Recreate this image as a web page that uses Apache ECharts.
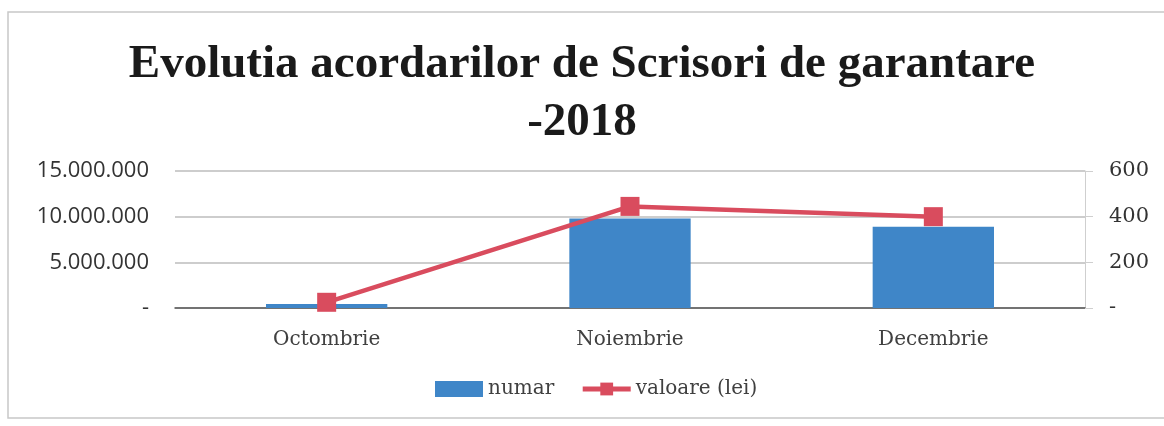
<!DOCTYPE html>
<html>
<head>
<meta charset="utf-8">
<script src="https://cdn.jsdelivr.net/npm/echarts@6/dist/echarts.min.js"></script>
<style>
  html, body { margin: 0; padding: 0; background: #fff; }
  #chart { width: 1164px; height: 426px; }
</style>
</head>
<body>
<div id="chart"></div>
<script>
var months = ['Octombrie', 'Noiembrie', 'Decembrie'];
var numar = [450000, 9800000, 8900000];
var valoare = [25, 445, 400];
var leftTicks = [0, 5000000, 10000000, 15000000];
var rightTicks = [0, 200, 400, 600];

function fmtDots(v) {
    if (v === 0) return '-';
    return String(v).replace(/\B(?=(\d{3})+(?!\d))/g, '.');
}

var chart = echarts.init(document.getElementById('chart'));
var serif = '"DejaVu Serif", serif';
var lineColor = '#d94c5e';
var option = {
    title: {
        text: 'Evolutia acordarilor de Scrisori de garantare\n-2018',
        left: 'center',
        top: 31,
        textStyle: {
            fontFamily: '"Liberation Serif", serif',
            fontWeight: 'bold',
            fontSize: 47,
            lineHeight: 58,
            color: '#1a1a1a'
        }
    },
    graphic: [{
        type: 'rect',
        shape: { x: 8, y: 12, width: 1170, height: 406 },
        style: { fill: 'none', stroke: '#c8c8c8', lineWidth: 1.5 }
    }],
    legend: {
        bottom: 22,
        left: 430,
        itemGap: 26,
        itemWidth: 48,
        itemHeight: 16,
        textStyle: { fontFamily: serif, fontSize: 20, color: '#404040' },
        data: [
            { name: 'numar', icon: 'rect', itemStyle: { color: '#3f86c8' } },
            { name: 'valoare (lei)', lineStyle: { width: 5, color: lineColor } }
        ]
    },
    grid: { left: 175, right: 79, top: 171, bottom: 118 },
    xAxis: {
        type: 'category',
        data: months,
        axisTick: { show: false },
        axisLine: { lineStyle: { color: '#555', width: 1.5 } },
        axisLabel: { margin: 22, fontFamily: serif, fontSize: 20, color: '#404040' }
    },
    yAxis: [{
        type: 'value',
        min: 0,
        max: leftTicks[leftTicks.length - 1],
        interval: leftTicks[1] - leftTicks[0],
        axisLabel: {
            margin: 26,
            fontFamily: '"Open Sans", sans-serif',
            fontSize: 22,
            color: '#333',
            formatter: fmtDots
        },
        splitLine: { lineStyle: { color: '#bdbdbd', width: 1.5 } }
    }, {
        type: 'value',
        min: 0,
        max: rightTicks[rightTicks.length - 1],
        interval: rightTicks[1] - rightTicks[0],
        position: 'right',
        axisLine: { show: true, lineStyle: { color: '#cfcfcf' } },
        axisTick: { show: true, length: 8, lineStyle: { color: '#cfcfcf' } },
        axisLabel: {
            margin: 24,
            fontFamily: serif,
            fontSize: 21,
            color: '#333',
            formatter: function (v) { return v === 0 ? '-' : v; }
        },
        splitLine: { show: false }
    }],
    series: [{
        name: 'numar',
        type: 'bar',
        yAxisIndex: 0,
        barWidth: '40%',
        data: numar,
        itemStyle: { color: '#3f86c8' }
    }, {
        name: 'valoare (lei)',
        type: 'line',
        yAxisIndex: 1,
        data: valoare,
        symbol: 'rect',
        symbolSize: 19,
        lineStyle: { color: lineColor, width: 4.5 },
        itemStyle: { color: lineColor }
    }]
};
chart.setOption(option);
window.addEventListener('resize', function () {
    chart.resize();
});
</script>
</body>
</html>
